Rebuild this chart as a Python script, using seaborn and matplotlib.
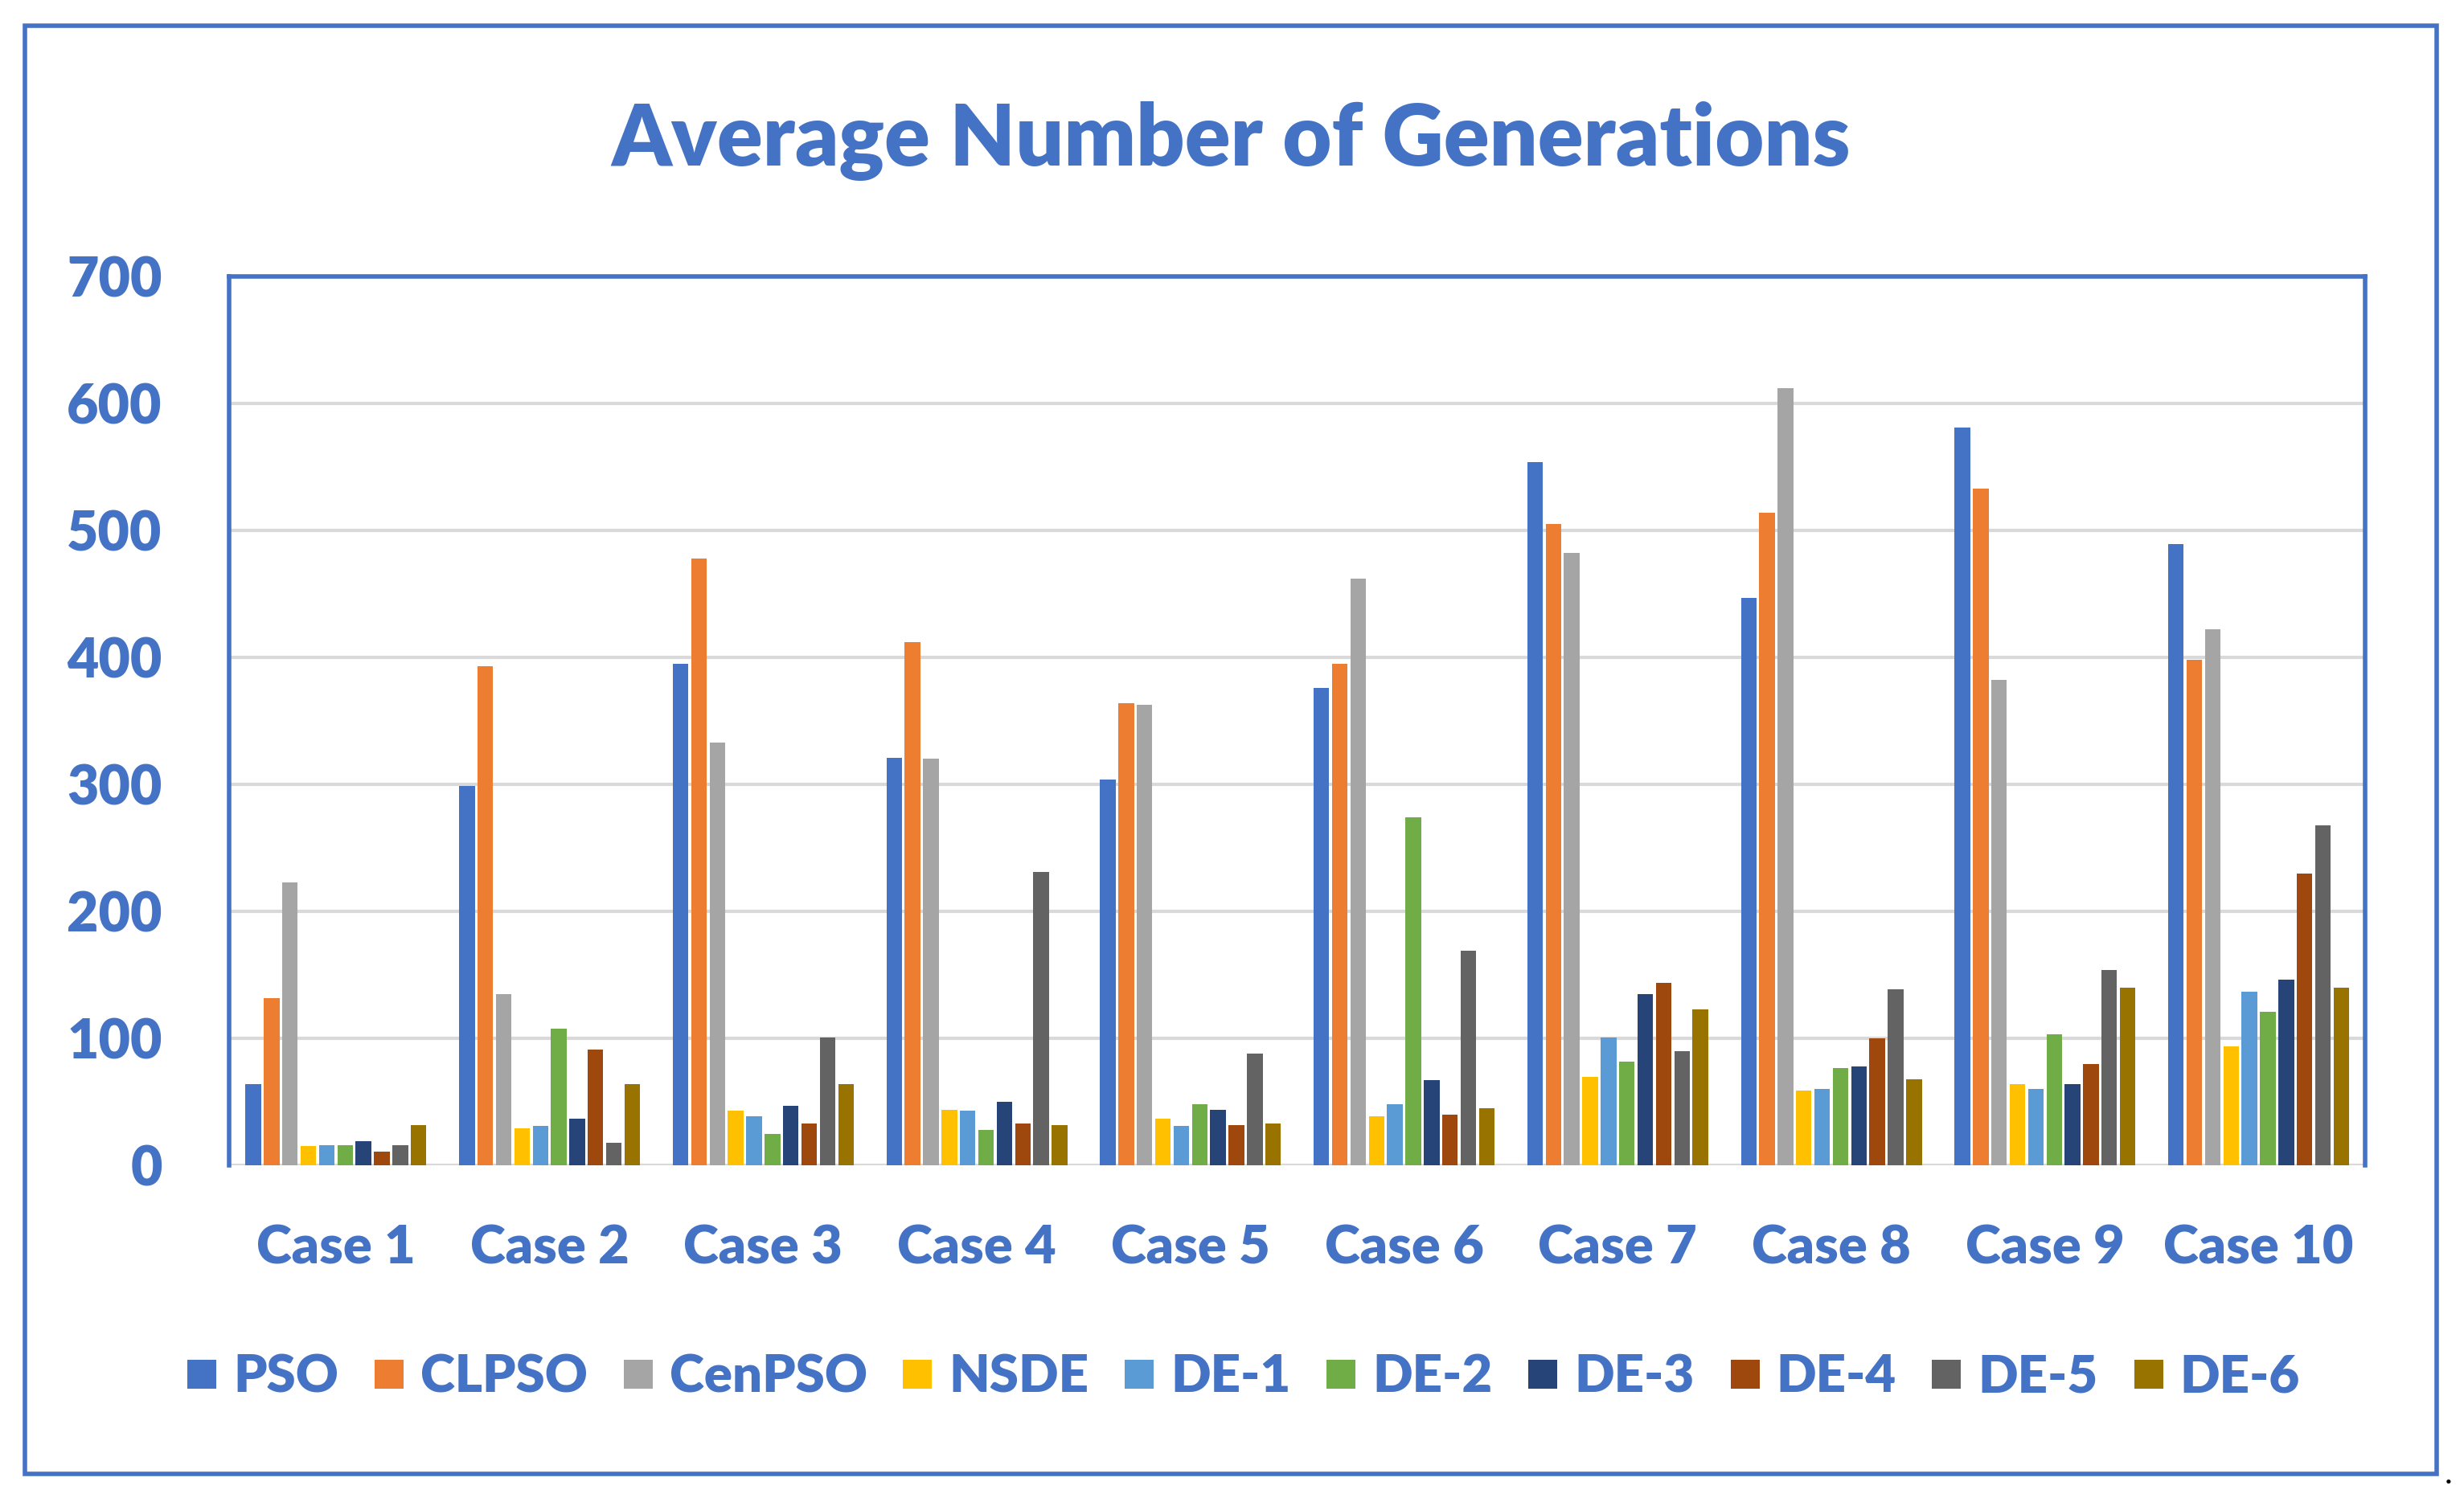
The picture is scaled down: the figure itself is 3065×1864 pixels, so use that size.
import matplotlib
matplotlib.use("Agg")
import matplotlib.pyplot as plt
from matplotlib.patches import Rectangle
from matplotlib.lines import Line2D
import seaborn as sns
import pandas as pd

cases = ["Case 1", "Case 2", "Case 3", "Case 4", "Case 5",
         "Case 6", "Case 7", "Case 8", "Case 9", "Case 10"]
algorithms = ["PSO", "CLPSO", "CenPSO", "NSDE", "DE-1",
              "DE-2", "DE-3", "DE-4", "DE-5", "DE-6"]

PSO    = [64, 299, 395, 321, 304, 376, 554, 447, 581, 489]
CLPSO  = [132, 393, 478, 412, 364, 395, 505, 514, 533, 398]
CenPSO = [223, 135, 333, 320, 363, 462, 482, 612, 382, 422]
NSDE   = [15, 29, 43, 44, 37, 39, 70, 59, 64, 94]
DE_1   = [16, 31, 39, 43, 31, 48, 101, 60, 60, 137]
DE_2   = [16, 108, 25, 28, 48, 274, 82, 77, 103, 121]
DE_3   = [19, 37, 47, 50, 44, 67, 135, 78, 64, 146]
DE_4   = [11, 91, 33, 33, 32, 40, 144, 100, 80, 230]
DE_5   = [16, 18, 101, 231, 88, 169, 90, 139, 154, 268]
DE_6   = [32, 64, 64, 32, 33, 45, 123, 68, 140, 140]

series = [PSO, CLPSO, CenPSO, NSDE, DE_1, DE_2, DE_3, DE_4, DE_5, DE_6]
colors = ["#4472C4", "#ED7D31", "#A5A5A5", "#FFC000", "#5B9BD5",
          "#70AD47", "#264478", "#9E480E", "#636363", "#997300"]
yticks = [0, 100, 200, 300, 400, 500, 600, 700]

rows = []
for algo, vals in zip(algorithms, series):
    for c, v in zip(cases, vals):
        rows.append({"case": c, "algo": algo, "value": v})
df = pd.DataFrame(rows)

sns.set_style("white")
plt.rcParams["font.family"] = ["Lato", "DejaVu Sans"]
blue = "#4472C4"
weight = "heavy"

fig = plt.figure(figsize=(30.65, 18.64), dpi=100)
ax = fig.add_axes([0.093, 0.222, 0.867, 0.5935])

sns.barplot(data=df, x="case", y="value", hue="algo", order=cases,
            hue_order=algorithms, palette=colors, saturation=1,
            width=0.86, gap=0.15, errorbar=None, linewidth=0,
            legend=False, ax=ax)

ax.set_xlim(-0.5, 9.5)
ax.set_ylim(0, 700)
ax.set_yticks(yticks)
ax.set_yticklabels([str(t) for t in yticks])
ax.set_axisbelow(True)
ax.yaxis.grid(True, color="#D9D9D9", linewidth=3)
ax.xaxis.grid(False)
ax.set_xlabel("")
ax.set_ylabel("")
for s in ["left", "top", "right"]:
    ax.spines[s].set_color(blue)
    ax.spines[s].set_linewidth(4)
ax.spines["bottom"].set_visible(False)
ax.tick_params(axis="y", length=0, labelsize=49, labelcolor=blue, pad=60)
ax.tick_params(axis="x", length=0, labelsize=48, labelcolor=blue, pad=52)
for lab in ax.get_xticklabels() + ax.get_yticklabels():
    lab.set_fontweight(weight)

fig.text(0.4995, 0.906, "Average Number of Generations", ha="center",
         va="center", fontsize=76, fontweight=weight, color=blue)

handles = [Line2D([0], [0], marker="s", linestyle="none", markersize=26,
                  markerfacecolor=c, markeredgewidth=0) for c in colors]
leg = fig.legend(handles, algorithms, loc="center", bbox_to_anchor=(0.5045, 0.0805),
                 ncol=10, frameon=False, fontsize=47, handlelength=0.6,
                 handletextpad=0.3, columnspacing=0.66)
for t in leg.get_texts():
    t.set_color(blue)
    t.set_fontweight(weight)

fig.patches.append(Rectangle((0.0102, 0.016), 0.9788, 0.967,
                             transform=fig.transFigure, fill=False,
                             edgecolor=blue, linewidth=4))
fig.text(0.992, 0.016, ".", ha="left", va="center", fontsize=30, color="black")

fig.savefig("out.png", dpi=100)
